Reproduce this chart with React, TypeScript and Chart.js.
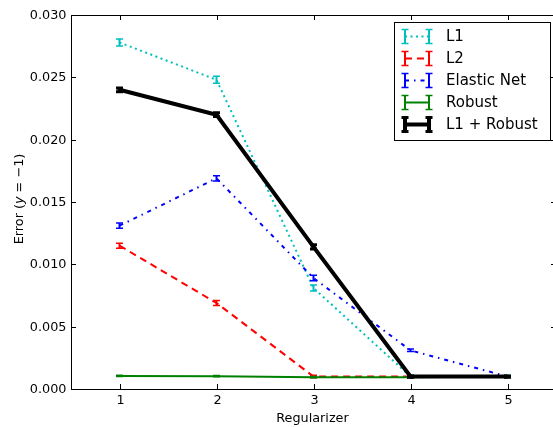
import React, { useEffect, useRef } from "react";
import { Chart, registerables } from "chart.js";

Chart.register(...registerables);

// ---- data ----
const regularizers = [1, 2, 3, 4, 5];
const xTicks = [1, 2, 3, 4, 5];
const yTicks = [0, 0.005, 0.01, 0.015, 0.02, 0.025, 0.03];

const l1Values = [0.0278, 0.0248, 0.0081, 0.001, 0.001];
const l1Errors = [0.00028, 0.00028, 0.00024, 0.0001, 0.0001];
const l2Values = [0.0115, 0.0069, 0.001, 0.001, 0.001];
const l2Errors = [0.0002, 0.0002, 0.0001, 0.00005, 0.00005];
const elasticValues = [0.0131, 0.0169, 0.0089, 0.0031, 0.001];
const elasticErrors = [0.00021, 0.00021, 0.00022, 0.0001, 0.00005];
const robustValues = [0.00105, 0.00103, 0.00095, 0.00095, 0.001];
const robustErrors = [0.00005, 0.00005, 0.00005, 0.00005, 0.00005];
const l1RobustValues = [0.024, 0.022, 0.0114, 0.001, 0.001];
const l1RobustErrors = [0.00015, 0.00015, 0.00018, 0.00005, 0.00005];

const seriesNames = ["L1", "L2", "Elastic Net", "Robust", "L1 + Robust"];

type Series = {
  label: string;
  values: number[];
  errors: number[];
  color: string;
  width: number;
  capWidth: number;
  dash: number[];
};

const SERIES: Series[] = [
  { label: seriesNames[0], values: l1Values, errors: l1Errors, color: "#00bfbf", width: 2, capWidth: 1.5, dash: [2, 3.5] },
  { label: seriesNames[1], values: l2Values, errors: l2Errors, color: "#ff0000", width: 2, capWidth: 1.5, dash: [7, 5] },
  { label: seriesNames[2], values: elasticValues, errors: elasticErrors, color: "#0000ff", width: 2, capWidth: 1.5, dash: [4, 5, 1.5, 5] },
  { label: seriesNames[3], values: robustValues, errors: robustErrors, color: "#008000", width: 2, capWidth: 1.5, dash: [] },
  { label: seriesNames[4], values: l1RobustValues, errors: l1RobustErrors, color: "#000000", width: 4, capWidth: 3, dash: [] },
];

// drawn order: dataset index 0 is drawn last (on top) -> reverse
const DRAW_SERIES = [...SERIES].reverse();

const FONT = '"DejaVu Sans", sans-serif';
const TICK_FONT = `12.8px ${FONT}`;
const LEGEND_FONT = `15px ${FONT}`;

const decor = {
  id: "decor",
  afterDatasetDraw(chart: any, args: any) {
    const s = DRAW_SERIES[args.index];
    const ctx = chart.ctx as CanvasRenderingContext2D;
    const ys = chart.scales.y;
    const area = chart.chartArea;
    ctx.save();
    ctx.beginPath();
    ctx.rect(area.left, area.top, area.right - area.left, area.bottom - area.top);
    ctx.clip();
    ctx.strokeStyle = s.color;
    ctx.setLineDash([]);
    args.meta.data.forEach((pt: any, i: number) => {
      const v = s.values[i];
      const e = s.errors[i];
      const x = pt.x;
      const y1 = ys.getPixelForValue(v - e);
      const y2 = ys.getPixelForValue(v + e);
      ctx.lineWidth = s.width;
      ctx.beginPath();
      ctx.moveTo(x, y1);
      ctx.lineTo(x, y2);
      ctx.stroke();
      ctx.lineWidth = s.capWidth;
      ctx.beginPath();
      ctx.moveTo(x - 3.5, y1);
      ctx.lineTo(x + 3.5, y1);
      ctx.moveTo(x - 3.5, y2);
      ctx.lineTo(x + 3.5, y2);
      ctx.stroke();
    });
    ctx.restore();
  },
  afterDraw(chart: any) {
    const ctx = chart.ctx as CanvasRenderingContext2D;
    const a = chart.chartArea;
    const xs = chart.scales.x;
    const ys = chart.scales.y;
    ctx.save();
    ctx.setLineDash([]);
    // frame
    ctx.strokeStyle = "#000";
    ctx.lineWidth = 1;
    ctx.strokeRect(Math.round(a.left) + 0.5, Math.round(a.top) + 0.5, Math.round(a.right - a.left), Math.round(a.bottom - a.top));
    const TL = 5;
    // x ticks
    ctx.fillStyle = "#000";
    ctx.font = TICK_FONT;
    ctx.textAlign = "center";
    ctx.textBaseline = "alphabetic";
    xTicks.forEach((t) => {
      const x = Math.round(xs.getPixelForValue(t)) + 0.5;
      ctx.beginPath();
      ctx.moveTo(x, a.bottom);
      ctx.lineTo(x, a.bottom - TL);
      ctx.moveTo(x, a.top);
      ctx.lineTo(x, a.top + TL);
      ctx.stroke();
      ctx.fillText(String(t), x, a.bottom + 14.5);
    });
    // y ticks
    ctx.textAlign = "right";
    ctx.textBaseline = "middle";
    yTicks.forEach((t) => {
      const y = Math.round(ys.getPixelForValue(t)) + 0.5;
      ctx.beginPath();
      ctx.moveTo(a.left, y);
      ctx.lineTo(a.left + TL, y);
      ctx.moveTo(a.right, y);
      ctx.lineTo(a.right - TL, y);
      ctx.stroke();
      ctx.fillText(t.toFixed(3), a.left - 4.5, y);
    });
    // x title
    ctx.textAlign = "center";
    ctx.textBaseline = "alphabetic";
    ctx.fillText("Regularizer", (a.left + 553) / 2 + 0.5, 421.5);
    // y title (mixed italic)
    const parts: [string, string][] = [
      ["Error (", TICK_FONT],
      ["y", `italic ${TICK_FONT}`],
      [" = ", TICK_FONT],
      ["\u22121", TICK_FONT],
      [")", TICK_FONT],
    ];
    let total = 0;
    parts.forEach(([t, f]) => {
      ctx.font = f;
      total += ctx.measureText(t).width;
    });
    ctx.translate(22.5, 199);
    ctx.rotate(-Math.PI / 2);
    ctx.textAlign = "left";
    let cx = -total / 2;
    parts.forEach(([t, f]) => {
      ctx.font = f;
      ctx.fillText(t, cx, 0);
      cx += ctx.measureText(t).width;
    });
    ctx.setTransform(1, 0, 0, 1, 0, 0);
    // legend
    ctx.fillStyle = "#fff";
    ctx.fillRect(394.5, 22.5, 156, 118);
    ctx.strokeStyle = "#000";
    ctx.lineWidth = 1;
    ctx.strokeRect(394.5, 22.5, 156, 118);
    ctx.font = LEGEND_FONT;
    ctx.textAlign = "left";
    ctx.textBaseline = "middle";
    SERIES.forEach((s, i) => {
      const y = 36.5 + i * 22;
      const x1 = 405;
      const x2 = 429;
      ctx.strokeStyle = s.color;
      ctx.lineWidth = s.width;
      ctx.setLineDash(s.dash);
      ctx.beginPath();
      ctx.moveTo(x1, y);
      ctx.lineTo(x2, y);
      ctx.stroke();
      ctx.setLineDash([]);
      [x1, x2].forEach((x) => {
        ctx.lineWidth = s.width;
        ctx.beginPath();
        ctx.moveTo(x, y - 7);
        ctx.lineTo(x, y + 7);
        ctx.stroke();
        ctx.lineWidth = s.capWidth;
        ctx.beginPath();
        ctx.moveTo(x - 3.5, y - 7);
        ctx.lineTo(x + 3.5, y - 7);
        ctx.moveTo(x - 3.5, y + 7);
        ctx.lineTo(x + 3.5, y + 7);
        ctx.stroke();
      });
      ctx.fillStyle = "#000";
      ctx.fillText(s.label, 446, y + 0.5);
    });
    ctx.restore();
  },
};

export default function App() {
  const ref = useRef<HTMLCanvasElement | null>(null);
  useEffect(() => {
    if (!ref.current) return;
    const chart = new Chart(ref.current, {
      type: "line",
      data: {
        datasets: DRAW_SERIES.map((s) => ({
          label: s.label,
          data: regularizers.map((x, i) => ({ x, y: s.values[i] })),
          borderColor: s.color,
          backgroundColor: s.color,
          borderWidth: s.width,
          borderDash: s.dash,
          pointRadius: 0,
          tension: 0,
          fill: false,
        })),
      },
      options: {
        animation: false,
        responsive: false,
        events: [],
        layout: { padding: { left: 71, top: 15, right: 4, bottom: 38 } },
        plugins: { legend: { display: false }, tooltip: { enabled: false } },
        scales: {
          x: { type: "linear", min: 0.5, max: 5.5, display: false },
          y: { type: "linear", min: 0, max: 0.03, display: false },
        },
      },
      plugins: [decor],
    });
    return () => chart.destroy();
  }, []);
  return (
    <div style={{ position: "fixed", left: 0, top: 0, width: 553, height: 427, overflow: "hidden", background: "#fff" }}>
      <canvas ref={ref} width={560} height={427} style={{ width: 560, height: 427, display: "block" }} />
    </div>
  );
}
